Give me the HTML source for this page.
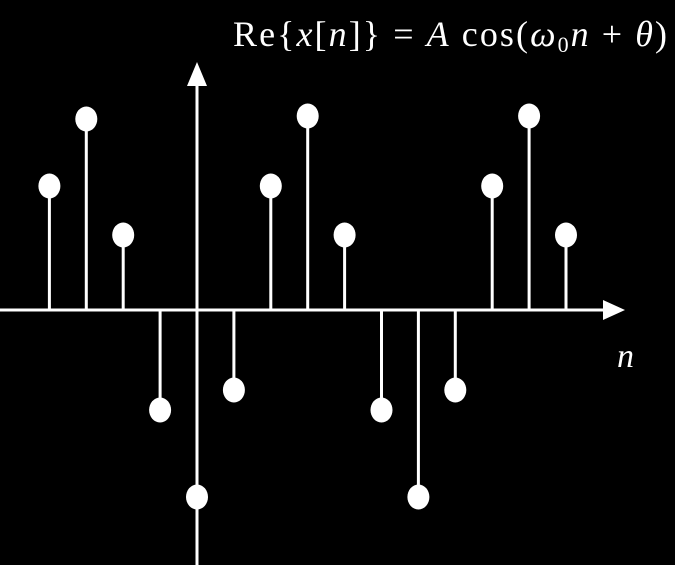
<!DOCTYPE html>
<html><head><meta charset="utf-8"><style>
html,body{margin:0;padding:0;background:#000;width:675px;height:565px;overflow:hidden}
svg{display:block}
</style></head><body>
<svg width="675" height="565" viewBox="0 0 675 565">
<g id="axes">
  <line x1="0" y1="310" x2="608" y2="310" stroke="#fff" stroke-width="3"/>
  <polygon points="625,310 603,300 603,320" fill="#fff"/>
  <line x1="197" y1="80" x2="197" y2="565" stroke="#fff" stroke-width="3"/>
  <polygon points="197,62 187,86 207,86" fill="#fff"/>
</g>
<text x="617" y="367" fill="#fff" font-family="Liberation Serif, serif" font-style="italic" font-size="34">n</text>
<text x="233" y="46" fill="#fff" font-family="Liberation Serif, serif" font-size="36" textLength="434" lengthAdjust="spacing">Re{<tspan font-style="italic">x</tspan>[<tspan font-style="italic">n</tspan>]} = <tspan font-style="italic">A</tspan> cos(<tspan font-style="italic">ω</tspan><tspan font-size="22" dy="6">0</tspan><tspan font-style="italic" dy="-6">n</tspan> + <tspan font-style="italic">θ</tspan>)</text>
<g id="stems"></g>
</svg>
<script>
const nIndices = [-4,-3,-2,-1,0,1,2,3,4,5,6,7,8,9,10];
const values = [1.24,1.91,0.75,-1.00,-1.87,-0.80,1.24,1.94,0.75,-1.00,-1.87,-0.80,1.24,1.94,0.75];
function xScale(n){return 197 + n*36.9;}
function yScale(v){return 310 - v*100;}
const g = document.getElementById('stems');
const NS = 'http://www.w3.org/2000/svg';
nIndices.forEach((n,i)=>{
  const x = xScale(n), y = yScale(values[i]);
  const l = document.createElementNS(NS,'line');
  l.setAttribute('x1',x);l.setAttribute('x2',x);
  l.setAttribute('y1',310);l.setAttribute('y2',y);
  l.setAttribute('stroke','#fff');l.setAttribute('stroke-width','3');
  
  
  g.appendChild(l);
  const e = document.createElementNS(NS,'ellipse');
  e.setAttribute('cx',x);e.setAttribute('cy',y);
  e.setAttribute('rx',11);e.setAttribute('ry',12.5);
  e.setAttribute('fill','#fff');
  
  
  g.appendChild(e);
});
</script>
</body></html>
